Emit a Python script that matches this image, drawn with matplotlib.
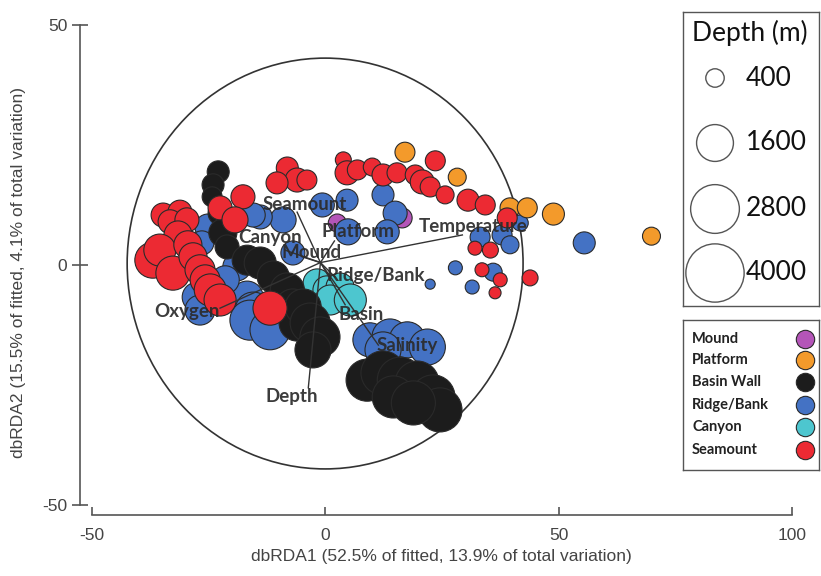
import matplotlib
matplotlib.use("Agg")
import matplotlib.pyplot as plt
from matplotlib.patches import Ellipse

plt.rcParams["axes.unicode_minus"] = False

# ---------------- data ----------------
habitats = ["Mound", "Platform", "Basin Wall", "Ridge/Bank", "Canyon", "Seamount"]

mound_x = [2.6, 16.5]
mound_y = [8.75, 9.8]
mound_depth = [380, 470]

platform_x = [17.1, 28.3, 39.6, 43.3, 48.9, 69.9]
platform_y = [23.5, 18.3, 11.9, 11.9, 10.6, 6.0]
platform_depth = [470, 380, 470, 470, 570, 380]

ridge_x = [55.5, 33.2, 37.9, 39.6, 41.8, 27.9, 31.5, 22.5, 36.0,
           4.7, 12.4, 15.0, 13.3, 4.9, -0.6, -9.0, -13.9, -6.9,
           -25.1, -26.4, -15.4, -18.9, -27.4, -26.8, -16.7, -15.4, -16.1, -11.8, -21.4,
           9.6, 13.9, 17.6, 21.9, 12.4]
ridge_y = [4.6, 5.8, 6.25, 4.2, 8.75, -0.6, -4.6, -4.0, -1.5,
           13.5, 14.6, 10.8, 6.9, 6.9, 12.5, 9.4, 10.0, 2.5,
           7.9, 4.6, 10.4, -0.4, -6.7, -9.4, -6.7, -9.4, -11.5, -13.5, -3.1,
           -15.6, -15.0, -15.6, -17.1, -17.7]
ridge_depth = [570, 470, 470, 380, 300, 230, 230, 120, 380,
               570, 570, 680, 680, 800, 680, 800, 680, 680,
               800, 680, 680, 930, 1060, 1060, 1210, 1530, 1890, 1890, 930,
               1370, 1530, 1530, 1530, 1530]

canyon_x = [-1.7, 0.4, 3.2, 1.1, 5.4]
canyon_y = [-3.75, -5.2, -4.6, -7.3, -7.3]
canyon_depth = [930, 930, 930, 1060, 1210]

basin_x = [-22.9, -24.0, -24.2, -22.5, -21.9, -21.0, -16.7, -13.9, -11.1, -8.1, -6.9, -6.0, -4.7, -3.2, -1.1, -2.6,
           9.0, 12.4, 16.1, 19.7, 23.1, 24.6, 14.6, 18.9]
basin_y = [19.4, 16.7, 14.2, 10.8, 6.7, 3.75, 1.0, 0.4, -2.5, -5.2, -8.75, -12.1, -8.75, -12.1, -15.0, -17.7,
           -24.0, -22.5, -24.0, -24.6, -27.5, -30.2, -27.5, -28.75]
basin_depth = [570, 570, 470, 680, 930, 680, 1060, 1210, 1210, 1370, 1530, 1530, 1530, 1890, 1890, 1530,
               2090, 2290, 2500, 2290, 2290, 2290, 2090, 2290]

seamount_x = [-34.7, -31.1, -33.2, -29.6, -31.5, -36.9, -35.4, -32.6, -29.4, -28.3, -26.8, -25.7, -24.6,
              -22.5, -11.8, -22.5, -17.6, -19.3,
              -8.1, -6.0, -10.3, -3.9, 3.9, 4.7, 6.9, 10.1, 12.4, 15.4,
              23.6, 19.3, 20.8, 22.5, 25.7, 30.6, 34.3, 39.0, 32.1, 35.4, 33.6, 37.5, 43.9, 36.4]
seamount_y = [10.4, 11.0, 9.0, 9.4, 6.25, 1.0, 3.1, -1.7, 4.2, 1.7, -1.0, -3.1, -5.2,
              -7.3, -9.0, 11.9, 14.2, 9.4,
              20.2, 17.7, 17.1, 17.7, 21.9, 19.2, 19.8, 20.4, 18.75, 19.2,
              21.7, 18.75, 17.3, 16.25, 14.6, 13.5, 12.5, 9.8, 3.5, 3.1, -1.0, -3.1, -2.7, -5.8]
seamount_depth = [680, 680, 680, 680, 930, 1530, 1210, 1370, 930, 930, 1060, 1060, 1210,
                  1210, 1370, 680, 680, 800,
                  570, 680, 570, 470, 300, 680, 470, 380, 570, 470,
                  470, 470, 680, 470, 380, 570, 470, 470, 230, 300, 230, 230, 300, 170]

vector_names = ["Seamount", "Platform", "Canyon", "Mound", "Temperature",
                "Ridge/Bank", "Oxygen", "Basin", "Salinity", "Depth"]
vector_x = [-6.0, 2.0, -8.6, -4.3, 29.4, 2.1, -22.5, 4.3, 11.4, -3.6]
vector_y = [11.0, 5.0, 3.1, 1.5, 6.25, -2.5, -9.0, -8.3, -16.7, -25.6]

legend_depths = [400, 1600, 2800, 4000]

# ---------------- style ----------------
colors = {"Mound": "#b455b8", "Platform": "#f39a2b", "Basin Wall": "#1c1c1c",
          "Ridge/Bank": "#4472c4", "Canyon": "#4dc6cf", "Seamount": "#ec2a33"}
SIZE = 0.44  # points^2 per metre

label_pos = {"Seamount": (-4.3, 12.5), "Platform": (7.1, 6.9), "Canyon": (-11.8, 5.8),
             "Mound": (-2.8, 2.7), "Temperature": (31.7, 8.1), "Ridge/Bank": (10.9, -2.3),
             "Oxygen": (-29.6, -9.6), "Basin": (7.7, -10.4), "Salinity": (17.6, -16.7),
             "Depth": (-7.1, -27.5)}

fig = plt.figure(figsize=(8.21, 5.76), dpi=100)
ax = fig.add_axes([80/821, 61/576, 712/821, 490/576])
ax.set_xlim(-52.5, 100)
ax.set_ylim(-52.1, 50)

groups = [("Mound", mound_x, mound_y, mound_depth),
          ("Ridge/Bank", ridge_x, ridge_y, ridge_depth),
          ("Canyon", canyon_x, canyon_y, canyon_depth),
          ("Basin Wall", basin_x, basin_y, basin_depth),
          ("Platform", platform_x, platform_y, platform_depth),
          ("Seamount", seamount_x, seamount_y, seamount_depth)]
for z, (name, xs, ys, ds) in enumerate(groups):
    ax.scatter(xs, ys, s=[SIZE * d for d in ds], c=colors[name],
               edgecolors="#2a2a2a", linewidths=0.8, zorder=3 + z * 0.1)

circ = Ellipse((0, 0.3), 84.8, 85.6, fill=False, edgecolor="#333333", lw=1.2, zorder=2)
ax.add_patch(circ)

ox, oy = -1.0, 0.5
for name, vx, vy in zip(vector_names, vector_x, vector_y):
    ax.plot([ox, vx], [oy, vy], color="#333333", lw=1.0, zorder=5)
    lx, ly = label_pos[name]
    ax.text(lx, ly, name, ha="center", va="center", fontsize=13.5, fontweight="bold",
            family="Lato", color="#2b2b2b", alpha=0.92, zorder=6)

for s in ["top", "right"]:
    ax.spines[s].set_visible(False)
ax.spines["left"].set_bounds(-50, 50)
ax.spines["bottom"].set_bounds(-50, 100)
for s in ["left", "bottom"]:
    ax.spines[s].set_color("#555555")
    ax.spines[s].set_linewidth(1.2)
ax.set_xticks([-50, 0, 50, 100])
ax.set_yticks([-50, 0, 50])
ax.tick_params(axis="x", direction="in", length=6, width=1.2, color="#555555",
               labelsize=12.5, labelcolor="#444444", pad=9)
ax.tick_params(axis="y", direction="inout", length=12, width=1.2, color="#555555",
               labelsize=12.5, labelcolor="#444444", pad=3)
for t in ax.get_xticklabels() + ax.get_yticklabels():
    t.set_family("Liberation Sans")
ax.set_facecolor("none")

fig.text(441/821, 1 - 557/576, "dbRDA1 (52.5% of fitted, 13.9% of total variation)",
         ha="center", va="center", fontsize=12.5, color="#444444", family="Liberation Sans")
fig.text(19/821, 1 - 272/576, "dbRDA2 (15.5% of fitted, 4.1% of total variation)",
         ha="center", va="center", rotation=90, fontsize=12.5, color="#444444",
         family="Liberation Sans")

# ---- depth legend ----
lg1 = fig.add_axes([683/821, 1 - 306/576, 136/821, 294/576])
lg1.set_xlim(0, 136)
lg1.set_ylim(294, 0)
lg1.set_xticks([]); lg1.set_yticks([])
for s in lg1.spines.values():
    s.set_color("#555555"); s.set_linewidth(1.0)
lg1.text(67, 21, "Depth (m)", ha="center", va="center", fontsize=19, family="Lato", color="#111111")
for yy, d in zip([66, 131, 197, 261], legend_depths):
    lg1.scatter([32], [yy], s=SIZE * d, facecolors="none", edgecolors="#555555", linewidths=1.0)
    lg1.text(63, yy, str(d), ha="left", va="center", fontsize=19, family="Lato", color="#111111")

# ---- habitat legend ----
lg2 = fig.add_axes([683/821, 1 - 470/576, 136/821, 150/576])
lg2.set_xlim(0, 136)
lg2.set_ylim(150, 0)
lg2.set_xticks([]); lg2.set_yticks([])
for s in lg2.spines.values():
    s.set_color("#555555"); s.set_linewidth(1.0)
for yy, name in zip([19, 40, 62, 85, 107, 130], habitats):
    lg2.text(9, yy, name, ha="left", va="center", fontsize=10.5, fontweight="bold",
             family="Lato", color="#222222")
    lg2.scatter([122], [yy], s=175, c=colors[name], edgecolors="#2a2a2a", linewidths=0.8)

fig.savefig("out.png", dpi=100)
